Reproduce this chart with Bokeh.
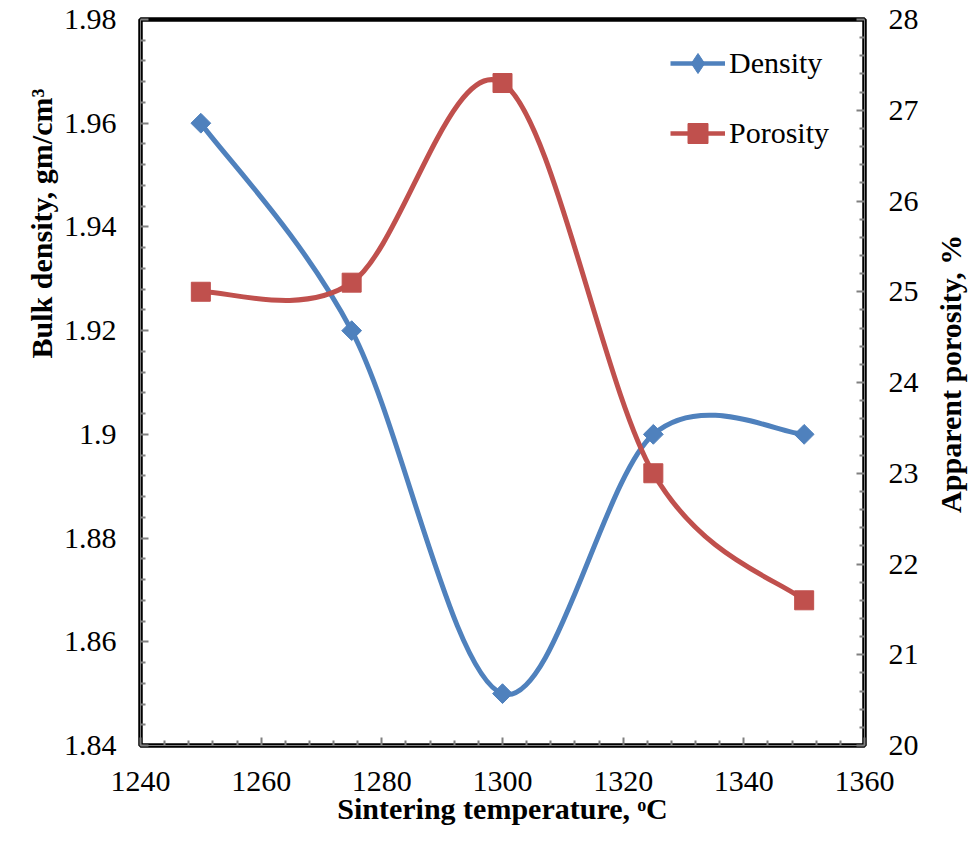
import numpy as np
from bokeh.plotting import figure
from bokeh.layouts import row
from bokeh.models import (Range1d, LinearAxis, FixedTicker, CustomJSTickFormatter,
                          ColumnDataSource, Legend, LegendItem)
from bokeh.core.properties import value
from bokeh.embed import file_html
from bokeh.resources import INLINE

# ---- data ----
temperature = [1250, 1275, 1300, 1325, 1350]
density = [1.96, 1.92, 1.85, 1.90, 1.90]
porosity = [25.0, 25.1, 27.3, 23.0, 21.6]

x_ticks = [1240, 1260, 1280, 1300, 1320, 1340, 1360]
y_ticks = [1.84, 1.86, 1.88, 1.90, 1.92, 1.94, 1.96, 1.98]
y2_ticks = [20, 21, 22, 23, 24, 25, 26, 27, 28]

x_title = "Sintering temperature, ᵒC"
y_title = "Bulk density, gm/cm³"
y2_title = "Apparent porosity, %"

BLUE = "#4F81BD"
RED = "#C0504D"
FONT = "Liberation Serif"
H = 840


def smooth_segments(xs, ys):
    """Excel-like smoothed line as cubic Bezier segments between the data points."""
    x = np.asarray(xs, float)
    y = np.asarray(ys, float)
    n = len(x)
    xp = np.concatenate([[x[0]], x, [x[-1]]])
    yp = np.concatenate([[y[0]], y, [y[-1]]])
    P0x, P1x, P2x, P3x = xp[0:n - 1], xp[1:n], xp[2:n + 1], xp[3:n + 2]
    P0y, P1y, P2y, P3y = yp[0:n - 1], yp[1:n], yp[2:n + 1], yp[3:n + 2]
    return dict(
        x0=P1x, y0=P1y, x1=P2x, y1=P2y,
        cx0=P1x + (P2x - P0x) / 6, cy0=P1y + (P2y - P0y) / 6,
        cx1=P2x - (P3x - P1x) / 6, cy1=P2y - (P3y - P1y) / 6,
    )


p = figure(
    frame_width=724, frame_height=726,
    min_border_left=80, min_border_top=19, min_border_right=66, min_border_bottom=95,
    x_range=Range1d(1240, 1360), y_range=Range1d(1.84, 1.98),
    output_backend="svg", toolbar_location=None,
)
p.extra_y_ranges = {"por": Range1d(20, 28)}
p.xgrid.visible = False
p.ygrid.visible = False
p.background_fill_color = "white"
p.border_fill_color = "white"
p.outline_line_color = "black"
p.outline_line_width = 4.5

right_axis = LinearAxis(y_range_name="por")
p.add_layout(right_axis, "right")

fmt = CustomJSTickFormatter(code="return String(parseFloat(tick.toFixed(2)));")

def style_axis(ax, ticks):
    minor = []
    for a, b in zip(ticks[:-1], ticks[1:]):
        for k in range(1, 5):
            minor.append(a + (b - a) * k / 5)
    ax.ticker = FixedTicker(ticks=ticks, minor_ticks=minor)
    ax.formatter = fmt
    ax.axis_line_color = "#808080"
    ax.axis_line_width = 1
    ax.major_tick_in = 8
    ax.major_tick_out = 0
    ax.minor_tick_in = 5
    ax.minor_tick_out = 0
    ax.major_tick_line_color = "#808080"
    ax.minor_tick_line_color = "#808080"
    ax.major_tick_line_width = 2
    ax.minor_tick_line_width = 2
    ax.major_label_text_font = FONT
    ax.major_label_text_font_size = "30px"
    ax.major_label_text_color = "black"
    ax.axis_label_text_font = FONT
    ax.axis_label_text_font_size = "30px"
    ax.axis_label_text_font_style = "bold"
    ax.axis_label_text_color = "black"
    ax.major_label_standoff = 24

style_axis(p.xaxis[0], x_ticks)
style_axis(p.yaxis[0], y_ticks)
style_axis(right_axis, y2_ticks)

p.xaxis[0].axis_label = x_title
p.xaxis[0].major_label_standoff = 26
p.xaxis[0].axis_label_standoff = -2

# smoothed lines
dsrc = ColumnDataSource(smooth_segments(temperature, density))
psrc = ColumnDataSource(smooth_segments(temperature, porosity))
p.bezier(x0="x0", y0="y0", x1="x1", y1="y1", cx0="cx0", cy0="cy0",
         cx1="cx1", cy1="cy1", source=dsrc, line_color=BLUE, line_width=5)
p.bezier(x0="x0", y0="y0", x1="x1", y1="y1", cx0="cx0", cy0="cy0",
         cx1="cx1", cy1="cy1", source=psrc, line_color=RED, line_width=5,
         y_range_name="por")

d_pts = p.scatter(temperature, density, marker="square", angle=np.pi / 4, size=14,
                  fill_color=BLUE, line_color=BLUE)
p_pts = p.scatter(temperature, porosity, marker="square", size=19,
                  fill_color=RED, line_color=RED, y_range_name="por")

# legend proxies (line + marker), not drawn in the plot area
d_leg_line = p.line([1240], [1.84], line_color=BLUE, line_width=4.5, visible=False)
p_leg_line = p.line([1240], [1.84], line_color=RED, line_width=4.5, visible=False)
d_leg_mark = p.scatter([1240], [1.84], marker="diamond", fill_color=BLUE,
                       line_color=BLUE, visible=False)
p_leg_mark = p.scatter([1240], [1.84], marker="square", fill_color=RED,
                       line_color=RED, visible=False)

legend = Legend(
    items=[LegendItem(label="Density", renderers=[d_leg_line, d_leg_mark]),
           LegendItem(label="Porosity", renderers=[p_leg_line, p_leg_mark])],
    location=(530, 587), orientation="vertical",
    glyph_width=55, glyph_height=50, spacing=20, label_standoff=4,
    padding=0, margin=0, border_line_color=None, background_fill_alpha=0,
    label_text_font=FONT, label_text_font_size="30px", label_text_color="black",
)
p.add_layout(legend)


def title_strip(width, text, cx, cy):
    """Narrow canvas holding one vertical (bottom-to-top) axis title."""
    f = figure(width=width, height=H, min_border=0, toolbar_location=None,
               output_backend="svg", x_axis_location=None, y_axis_location=None,
               x_range=Range1d(0, width), y_range=Range1d(H, 0))
    f.grid.visible = False
    f.outline_line_color = None
    f.background_fill_color = "white"
    f.border_fill_color = "white"
    f.text(x=[cx], y=[cy], text=[text], angle=np.pi / 2, text_align="center",
           text_baseline="middle", text_font=value(FONT), text_font_size="30px",
           text_font_style="bold", text_color="black")
    return f

left_strip = title_strip(60, y_title, 41, 236)
right_strip = title_strip(39, y2_title, 20, 410)

layout = row(left_strip, p, right_strip)
open("out.html", "w").write(file_html(layout, INLINE))
